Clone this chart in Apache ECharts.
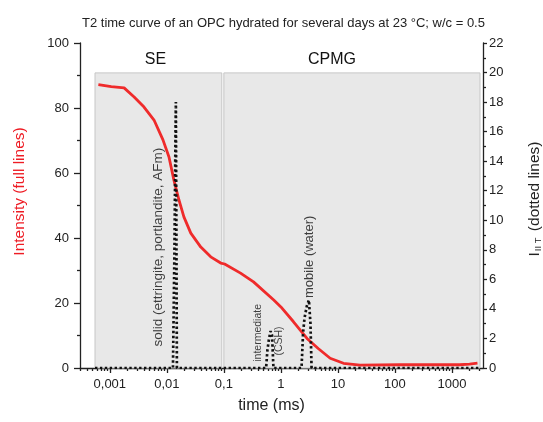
<!DOCTYPE html>
<html><head><meta charset="utf-8">
<script src="https://cdn.jsdelivr.net/npm/echarts@6/dist/echarts.min.js"></script>
<style>html,body{margin:0;padding:0;background:#fff}#c{width:543px;height:422px}</style>
</head><body><div id="c"></div>
<script>
// Red curve: intensity (left axis) vs time (ms)
const intensityTime = [0.00063, 0.00106, 0.00178, 0.00267, 0.00398, 0.00596, 0.00855, 0.0109, 0.0133, 0.0163, 0.0199, 0.0263, 0.0394, 0.0588, 0.088, 0.103, 0.196, 0.331, 0.749, 1.0, 1.65, 2.87, 4.51, 7.31, 12.5, 24.4, 122, 608, 1358, 2030, 2800];
const intensityValues = [87.2, 86.6, 86.2, 83.4, 80.3, 76.3, 70.2, 64.9, 57.8, 51.7, 46.5, 41.5, 37.2, 34.2, 32.3, 32.0, 29.2, 26.5, 20.9, 18.8, 14.3, 9.1, 6.0, 3.0, 1.45, 0.9, 1.0, 1.0, 1.0, 1.2, 1.5];
// Dotted curve: I (right axis) vs time (ms)
const dottedTime = [0.00055, 0.0128, 0.0136, 0.0142, 0.0144, 0.0147, 0.0150, 0.55, 0.58, 0.62, 0.66, 0.70, 0.74, 2.3, 2.45, 2.6, 2.85, 3.1, 3.3, 3.45, 3100];
const dottedValues = [0, 0, 8, 16, 18.0, 9, 0, 0, 1.2, 2.0, 2.5, 2.2, 0, 0, 2.4, 3.4, 4.2, 4.6, 3.0, 0, 0];
// Axis ticks
const xTickValues = [0.001, 0.01, 0.1, 1, 10, 100, 1000];
const xTickLabels = ['0,001', '0,01', '0,1', '1', '10', '100', '1000'];
const xDecades = [0.0001, 0.001, 0.01, 0.1, 1, 10, 100, 1000];
const xMinorMultipliers = [2, 3, 4, 5, 6, 7, 8, 9];
// Measurement regions
const regionNames = ['SE', 'CPMG'];
const regionStart = [0.00055, 0.1];
const regionEnd = [0.092, 3100];
const regionTop = 90.8;
// Annotations
const annotationTexts = ['solid (ettringite, portlandite, AFm)', 'intermediate', '(CSH)', 'mobile (water)'];
const annotationX = [0.0070, 0.405, 0.94, 3.14];
const annotationY = [37.2, 10.8, 8.3, 34.2];
const annotationFont = [13.5, 10.5, 10.5, 13];

const FONT = "'Liberation Sans', Arial, sans-serif";
const minorTicks = [];
xDecades.forEach(d => xMinorMultipliers.forEach(m => minorTicks.push(+(d * m).toPrecision(3))));

const chart = echarts.init(document.getElementById('c'));
const axisLineStyle = { color: '#222', width: 1.3 };
const labelStyle = { color: '#222', fontSize: 13, fontFamily: FONT };

chart.setOption({
  animation: false,
  backgroundColor: '#fff',
  textStyle: { fontFamily: FONT },
  title: {
    text: 'T2 time curve of an OPC hydrated for several days at 23 °C; w/c = 0.5',
    left: 77, top: 12,
    textStyle: { fontSize: 13, fontWeight: 'normal', color: '#222', fontFamily: FONT }
  },
  grid: { left: 80, right: 60, top: 43, bottom: 54, outerBoundsMode: 'none', containLabel: false },
  xAxis: [{
    type: 'log', min: 0.0003, max: 3500, position: 'bottom',
    name: 'time (ms)', nameLocation: 'middle', nameGap: 30,
    nameTextStyle: { fontSize: 16, color: '#222', fontFamily: FONT, padding: [0, 20, 0, 0] },
    axisLine: { show: true, lineStyle: axisLineStyle },
    axisTick: { show: true, inside: false, length: 5, lineStyle: axisLineStyle, customValues: xTickValues },
    axisLabel: Object.assign({ margin: 10, customValues: xTickValues,
      formatter: v => { const i = xTickValues.findIndex(t => Math.abs(t - v) / t < 1e-6); return i >= 0 ? xTickLabels[i] : ''; } }, labelStyle),
    splitLine: { show: false }, minorTick: { show: false }
  }, {
    type: 'log', min: 0.0003, max: 3500, position: 'bottom', offset: 0,
    axisLine: { show: false },
    axisTick: { show: true, inside: false, length: 3, lineStyle: axisLineStyle, customValues: minorTicks },
    axisLabel: { show: false },
    splitLine: { show: false }
  }],
  yAxis: [{
    type: 'value', min: 0, max: 100, interval: 20, position: 'left',
    name: 'Intensity (full lines)', nameLocation: 'middle', nameGap: 52,
    nameTextStyle: { fontSize: 15.5, color: '#ee1c24', fontFamily: FONT, padding: [0, 0, 0, 28] },
    axisLine: { show: true, lineStyle: axisLineStyle },
    axisTick: { show: true, length: 6, lineStyle: axisLineStyle },
    minorTick: { show: true, splitNumber: 2, length: 3, lineStyle: axisLineStyle },
    axisLabel: Object.assign({ margin: 11 }, labelStyle),
    splitLine: { show: false }
  }, {
    type: 'value', min: 0, max: 22, interval: 2, position: 'right',
    name: '{i|I}{s|II T} (dotted lines)', nameLocation: 'middle', nameGap: 44,
    nameTextStyle: { fontSize: 15.5, color: '#222', fontFamily: FONT, padding: [0, 0, 0, 13],
      rich: { i: { fontSize: 15.5, color: '#222' }, s: { fontSize: 9.5, color: '#222', verticalAlign: 'bottom', padding: [6, 2, 0, 1] } } },
    axisLine: { show: true, lineStyle: axisLineStyle },
    axisTick: { show: true, length: 4, lineStyle: axisLineStyle },
    minorTick: { show: true, splitNumber: 2, length: 3, lineStyle: axisLineStyle },
    axisLabel: Object.assign({ margin: 6 }, labelStyle),
    splitLine: { show: false }
  }],
  series: [{
    name: 'Intensity', type: 'line', xAxisIndex: 0, yAxisIndex: 0, z: 3,
    data: intensityTime.map((t, i) => [t, intensityValues[i]]),
    showSymbol: false, symbol: 'none',
    lineStyle: { color: '#ef2b2b', width: 2.8 },
    markArea: {
      silent: true,
      itemStyle: { color: '#e8e8e8', borderColor: '#c6c6c6', borderWidth: 1 },
      label: { show: true, position: 'top', distance: 5, color: '#111', fontSize: 16, fontFamily: FONT },
      data: regionNames.map((n, i) => [
        { name: n, xAxis: regionStart[i], yAxis: 0, label: { offset: i === 1 ? [-20, 0] : [-3, 0] } },
        { xAxis: regionEnd[i], yAxis: regionTop }
      ])
    }
  }, {
    name: 'I', type: 'line', xAxisIndex: 0, yAxisIndex: 1, z: 4,
    data: dottedTime.map((t, i) => [t, dottedValues[i]]),
    showSymbol: false, symbol: 'none',
    lineStyle: { color: '#111', width: 2.7, type: [2.4, 2.5] }
  }, {
    name: 'annotations', type: 'scatter', xAxisIndex: 0, yAxisIndex: 0, z: 5,
    symbolSize: 0, silent: true,
    data: annotationTexts.map((s, i) => ({
      value: [annotationX[i], annotationY[i]], name: s,
      label: { fontSize: annotationFont[i] }
    })),
    label: { show: true, position: 'inside', rotate: 90, formatter: '{b}', color: '#111', fontFamily: FONT }
  }]
});
</script>
</body></html>
